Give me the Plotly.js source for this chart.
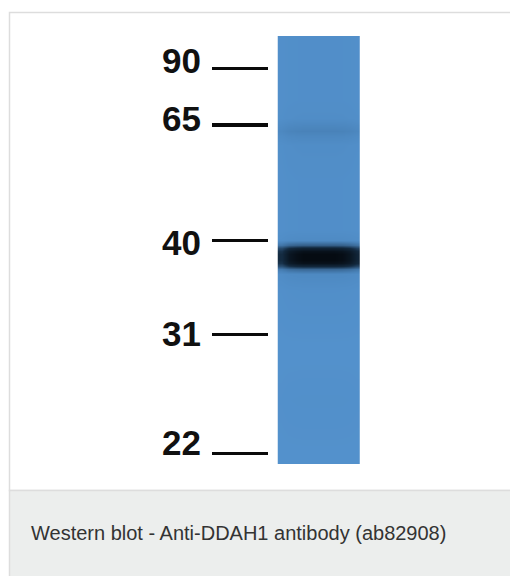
<!DOCTYPE html>
<html>
<head>
<meta charset="utf-8">
<script src="https://cdn.plot.ly/plotly-3.0.1.min.js"></script>
<style>
  html, body { margin: 0; padding: 0; background: #ffffff; }
  #blot { width: 510px; height: 576px; }
</style>
</head>
<body>
<div id="blot"></div>
<script>
// ---- data (migration in lane units, 0 = top of lane) ----
const markerLabels   = ['90', '65', '40', '31', '22'];          // kDa
const markerDashMig  = [3.23, 8.9, 20.47, 29.85, 41.73];        // marker line positions
const markerLabelMig = [2.48, 8.23, 20.7, 29.73, 40.65];        // marker label positions

// vertical signal profile along the lane
const laneMig       = [-1, 0, 2.4, 6.4, 8.2, 9.0, 9.5, 10.0, 10.9, 14.4, 19.4, 20.4, 20.9, 21.2, 21.5, 21.8, 22.1, 22.4, 22.7, 23.0, 23.3, 23.8, 25.4, 31.4, 36.4, 42.8, 44];
const laneIntensity = [0.02, 0.02, 0.02, 0.02, 0.03, 0.08, 0.11, 0.07, 0.03, 0.02, 0.02, 0.05, 0.3, 0.7, 0.92, 1.0, 1.0, 1.0, 0.92, 0.65, 0.25, 0.06, 0.02, 0.0, 0.01, 0.0, 0.0];

// horizontal profile across the lane width
const laneAcross     = [0, 1, 2, 3, 4, 5, 6, 7, 8, 9, 10];
const acrossProfile  = [0.6, 0.85, 0.95, 1, 1, 1, 1, 1, 0.97, 0.88, 0.68];

const caption = 'Western blot - Anti-DDAH1 antibody (ab82908)';

// ---- build ----
const z = laneIntensity.map(v => acrossProfile.map(h => v * h));

const W = 510, H = 576;
const M = { l: 269, r: 150, t: 36, b: 112 };
const pw = W - M.l - M.r, ph = H - M.t - M.b;
const px = x => (x - M.l) / pw;
const py = y => (H - M.b - y) / ph;

const trace = {
  type: 'heatmap',
  x: laneAcross,
  y: laneMig,
  z: z,
  zmin: 0, zmax: 1,
  zsmooth: 'best',
  showscale: false,
  hoverinfo: 'skip',
  colorscale: [
    [0, '#5391cc'],
    [0.1, '#4a84bb'],
    [0.3, '#345f89'],
    [0.6, '#142b41'],
    [1, '#050b12']
  ]
};

// invisible helper trace so yaxis2 is drawn
const labelTrace = {
  type: 'scatter', x: [null], y: [null], yaxis: 'y2', xaxis: 'x',
  showlegend: false, hoverinfo: 'skip'
};

const layout = {
  width: W, height: H,
  margin: M,
  paper_bgcolor: '#ffffff',
  plot_bgcolor: 'rgba(0,0,0,0)',
  showlegend: false,
  xaxis: { visible: false, range: [-1.67, 10.5], fixedrange: true },
  yaxis: {
    range: [42.8, 0],
    tickvals: markerDashMig,
    showticklabels: false,
    ticks: 'outside', ticklen: 56, tickwidth: 3.5, tickcolor: '#0a0a0a',
    showgrid: false, zeroline: false, showline: false, fixedrange: true
  },
  yaxis2: {
    overlaying: 'y', side: 'left',
    range: [42.8, 0],
    tickvals: markerLabelMig,
    ticktext: markerLabels,
    ticks: 'outside', ticklen: 56, tickwidth: 1, tickcolor: 'rgba(0,0,0,0)',
    ticklabelstandoff: 4,
    tickfont: { family: 'Liberation Sans, Arial, sans-serif', size: 35, color: '#111111', weight: 700 },
    showgrid: false, zeroline: false, showline: false, fixedrange: true
  },
  shapes: [
    { type: 'rect', xref: 'paper', yref: 'paper', layer: 'below',
      x0: px(9.5), x1: px(530), y0: py(12.5), y1: py(490.5),
      fillcolor: '#ffffff', line: { color: '#dddddd', width: 1.5 } },
    { type: 'rect', xref: 'paper', yref: 'paper', layer: 'below',
      x0: px(9.5), x1: px(530), y0: py(490.5), y1: py(577),
      fillcolor: '#eceeed', line: { color: '#dddddd', width: 1.5 } }
  ],
  annotations: [
    { xref: 'paper', yref: 'paper', x: px(29), y: py(533),
      xanchor: 'left', yanchor: 'middle', showarrow: false,
      text: caption,
      font: { family: 'Liberation Sans, Arial, sans-serif', size: 20, color: '#333333' } }
  ]
};

Plotly.newPlot('blot', [trace, labelTrace], layout, { displayModeBar: false, staticPlot: true });
</script>
</body>
</html>
